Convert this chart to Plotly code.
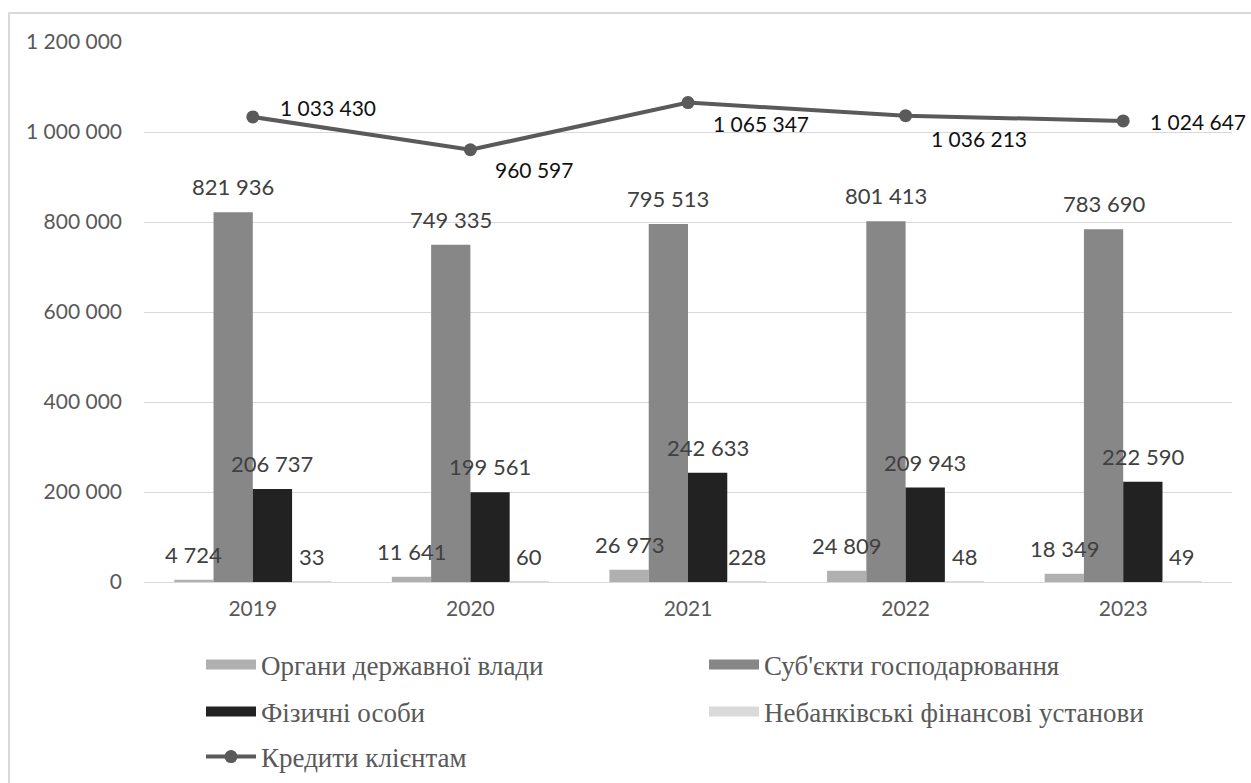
import plotly.graph_objects as go

# Loans to clients by borrower type, UAH mn
years = ["2019", "2020", "2021", "2022", "2023"]
gov_bodies = [4724, 11641, 26973, 24809, 18349]
businesses = [821936, 749335, 795513, 801413, 783690]
individuals = [206737, 199561, 242633, 209943, 222590]
nonbank_fin = [33, 60, 228, 48, 49]
total_loans = [1033430, 960597, 1065347, 1036213, 1024647]

bar_names = [
    "Органи державної влади",
    "Суб'єкти господарювання",
    "Фізичні особи",
    "Небанківські фінансові установи",
]
line_name = "Кредити клієнтам"
y_tick_vals = [0, 200000, 400000, 600000, 800000, 1000000, 1200000]

# styling
bar_colors = ["#b0b0b0", "#878787", "#222222", "#dadada"]
line_color = "#5a5a5a"
W, H = 1251, 783
M_L, M_R, M_T, M_B = 144, 19, 42, 201
BARGAP = 0.278
# label offsets (px) for the total-loans line: (dx, dy)
line_label_offsets = [(25, 9), (23, -20), (23, -21), (23, -23), (25, -1)]


def fmt(v):
    return f"{v:,}".replace(",", " ")


series = [gov_bodies, businesses, individuals, nonbank_fin]

fig = go.Figure()
for name, vals, col in zip(bar_names, series, bar_colors):
    fig.add_trace(go.Bar(x=years, y=vals, name=name, marker_color=col,
                         marker_line_width=0, showlegend=False,
                         hoverinfo="x+y"))

fig.add_trace(go.Scatter(x=years, y=total_loans, name=line_name,
                         mode="lines+markers",
                         line=dict(color=line_color, width=4),
                         marker=dict(color=line_color, size=13),
                         legend="legend3"))

# legend entries drawn as wide swatches (no visible data)
legend_ids = ["legend", "legend", "legend2", "legend2"]
for name, col, lg in zip(bar_names, bar_colors, legend_ids):
    fig.add_trace(go.Scatter(x=[years[0]], y=[None], name=name, mode="lines",
                             line=dict(color=col, width=12), legend=lg,
                             hoverinfo="skip"))

# value labels above each bar (category axis positions by index)
plot_w = W - M_L - M_R
cat_w = plot_w / len(years)
bar_w = cat_w * (1 - BARGAP) / len(series)
annotations = []
for i, vals in enumerate(series):
    for j, v in enumerate(vals):
        annotations.append(dict(
            x=j, y=v, text=fmt(v), showarrow=False,
            xanchor="center", yanchor="bottom",
            xshift=(i - 1.5) * bar_w, yshift=10,
            font=dict(family="Lato", size=22, color="#404040")))

for j, (v, (dx, dy)) in enumerate(zip(total_loans, line_label_offsets)):
    annotations.append(dict(
        x=j, y=v, text=fmt(v), showarrow=False,
        xanchor="left", yanchor="middle", xshift=dx, yshift=dy,
        font=dict(family="Lato", size=21, color="#111111")))

# outer chart frame
x0 = (9 - M_L) / plot_w
x1 = (W + 10 - M_L) / plot_w
plot_h = H - M_T - M_B
y1 = 1 + (M_T - 13) / plot_h
y0 = -(M_B + 10) / plot_h

legend_common = dict(orientation="h", xref="container", yref="container",
                     xanchor="left", yanchor="middle",
                     entrywidth=438, entrywidthmode="pixels", itemwidth=50,
                     font=dict(family="Liberation Serif", size=27,
                               color="#595959"),
                     bgcolor="rgba(0,0,0,0)")

fig.update_layout(
    width=W, height=H,
    margin=dict(l=M_L, r=M_R, t=M_T, b=M_B),
    paper_bgcolor="white", plot_bgcolor="white",
    barmode="group", bargap=BARGAP, bargroupgap=0,
    separators=". ",
    annotations=annotations,
    shapes=[dict(type="rect", xref="paper", yref="paper",
                 x0=x0, x1=x1, y0=y0, y1=y1,
                 line=dict(color="#d9d9d9", width=2))],
    legend=dict(**legend_common, x=201 / W, y=1 - 665 / H),
    legend2=dict(**legend_common, x=201 / W, y=1 - 712 / H),
    legend3=dict(**legend_common, x=201 / W, y=1 - 757 / H),
    xaxis=dict(type="category", categoryorder="array", categoryarray=years,
               range=[-0.5, len(years) - 0.5],
               showgrid=False, showline=False,
               ticks="", ticklabelstandoff=12,
               tickfont=dict(family="Lato", size=21, color="#595959")),
    yaxis=dict(range=[0, 1200000], tickvals=y_tick_vals,
               tickformat=",d", showgrid=True, gridcolor="#d9d9d9",
               gridwidth=1, zeroline=True, zerolinecolor="#d9d9d9",
               zerolinewidth=1, showline=False, ticks="",
               ticklabelstandoff=21,
               tickfont=dict(family="Lato", size=21, color="#595959")),
)

fig.write_html("out.html")
